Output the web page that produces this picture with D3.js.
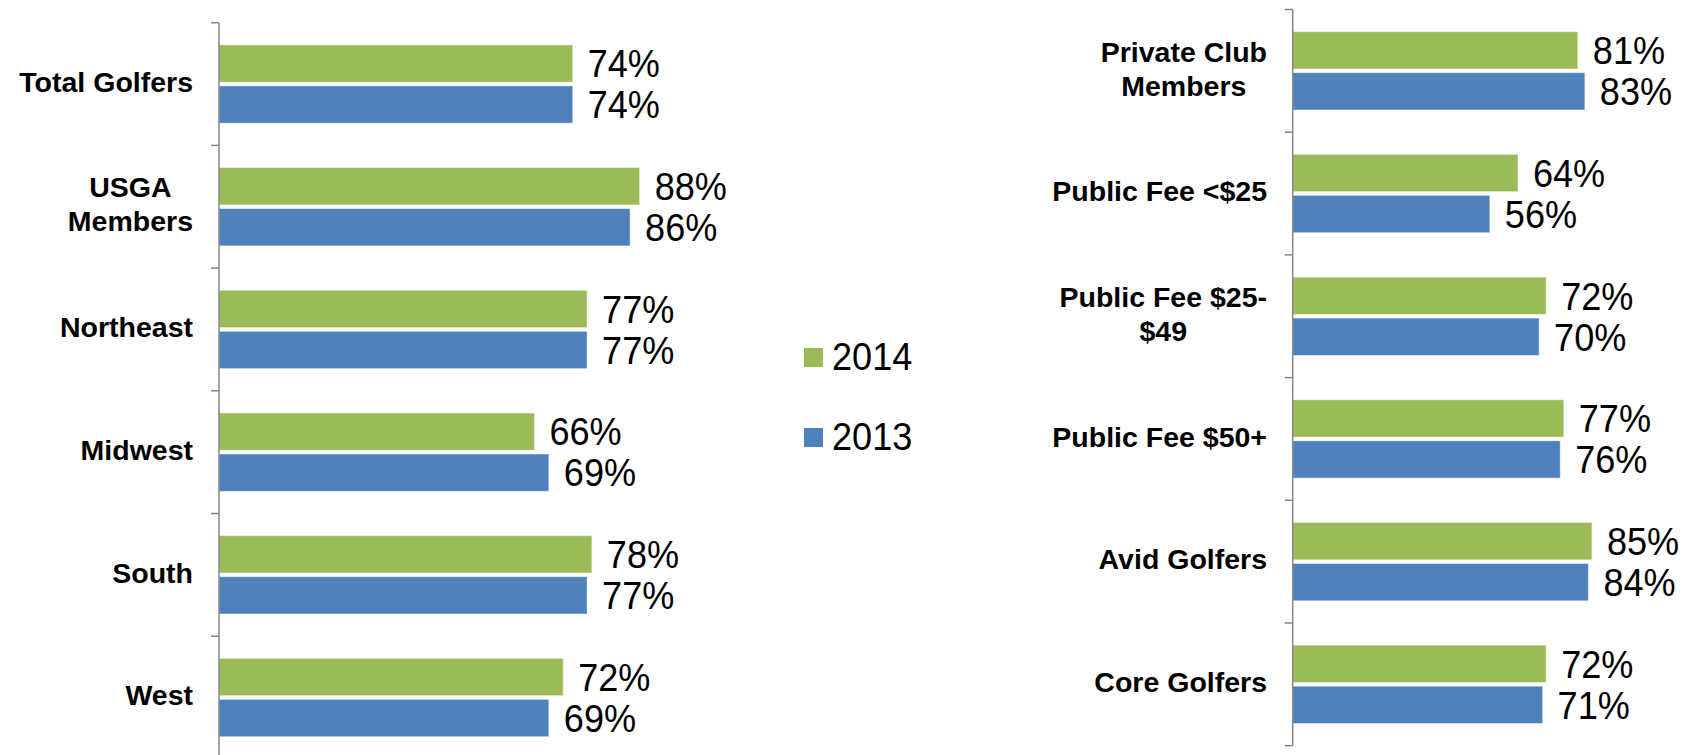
<!DOCTYPE html>
<html>
<head>
<meta charset="utf-8">
<script src="https://cdn.jsdelivr.net/npm/d3@7"></script>
<style>
  html, body { margin: 0; padding: 0; background: #fff; }
  svg { display: block; }
</style>
</head>
<body>
<svg id="chart" width="1690" height="755"></svg>
<script>
// ---- data ----
const seriesNames = ["2014", "2013"];
const leftCategories = ["Total Golfers", "USGA\nMembers", "Northeast", "Midwest", "South", "West"];
const left2014 = [74, 88, 77, 66, 78, 72];
const left2013 = [74, 86, 77, 69, 77, 69];
const rightCategories = ["Private Club\nMembers", "Public Fee <$25", "Public Fee $25-\n$49", "Public Fee $50+", "Avid Golfers", "Core Golfers"];
const right2014 = [81, 64, 72, 77, 85, 72];
const right2013 = [83, 56, 70, 76, 84, 71];
const colors = ["#9BBB59", "#4F81BD"];

const svg = d3.select("#chart");
const FONT = "'Liberation Sans', Arial, Helvetica, sans-serif";
const VAL_FS = 38, VAL_SX = 0.95;

function drawPanel(cfg) {
  const { categories, s2014, s2013, axisX, xWidth, yTop, step, labelRight } = cfg;
  const n = categories.length;
  const x = d3.scaleLinear().domain([0, 100]).range([axisX, axisX + xWidth]);
  const pin = 1 - 78.3 / step;
  const y = d3.scaleBand().domain(categories).range([yTop, yTop + n * step])
    .paddingInner(pin).paddingOuter(pin / 2);
  const sub = d3.scaleBand().domain(seriesNames).range([0, y.bandwidth()]).paddingInner(0.09);

  const rows = categories.map((c, i) => ({ cat: c, vals: [s2014[i], s2013[i]] }));
  const g = svg.append("g");

  const grp = g.selectAll("g.row").data(rows).join("g").attr("class", "row")
    .attr("transform", d => `translate(0,${y(d.cat)})`);

  grp.selectAll("rect").data(d => d.vals.map((v, k) => ({ v, k }))).join("rect")
    .attr("x", x(0))
    .attr("y", d => sub(seriesNames[d.k]))
    .attr("width", d => x(d.v) - x(0))
    .attr("height", sub.bandwidth())
    .attr("fill", d => colors[d.k])
    .attr("stroke", "rgba(255,255,255,0.45)")
    .attr("stroke-width", 1);

  grp.selectAll("text.val").data(d => d.vals.map((v, k) => ({ v, k }))).join("text")
    .attr("class", "val")
    .attr("transform", d => `translate(${x(d.v) + 15},${sub(seriesNames[d.k]) + sub.bandwidth() / 2 + 13.8}) scale(${VAL_SX},1)`)
    .attr("font-family", FONT)
    .attr("font-size", VAL_FS)
    .attr("fill", "#000")
    .text(d => d.v + "%");

  // axis line and boundary ticks
  const r = y.range();
  g.append("line").attr("x1", axisX).attr("x2", axisX).attr("y1", r[0]).attr("y2", r[1])
    .attr("stroke", "#868686").attr("stroke-width", 1.5);
  d3.range(n + 1).forEach(i => {
    const ty = r[0] + i * y.step();
    g.append("line").attr("x1", axisX - 8).attr("x2", axisX).attr("y1", ty).attr("y2", ty)
      .attr("stroke", "#868686").attr("stroke-width", 1.5);
  });

  // category labels
  const fs = 28.5, lh = 34;
  categories.forEach(c => {
    const lines = c.split("\n");
    const cy = y(c) + y.bandwidth() / 2;
    const t = g.append("text")
      .attr("font-family", FONT).attr("font-weight", "bold").attr("font-size", fs)
      .attr("fill", "#000").attr("text-anchor", "middle");
    lines.forEach((ln, j) => {
      t.append("tspan").attr("x", 0)
        .attr("y", cy + 0.358 * fs - 2.5 + (j - (lines.length - 1) / 2) * lh)
        .text(ln);
    });
    let maxW = 0;
    t.selectAll("tspan").each(function () { maxW = Math.max(maxW, this.getComputedTextLength()); });
    t.selectAll("tspan").attr("x", labelRight - maxW / 2);
  });
}

drawPanel({ categories: leftCategories, s2014: left2014, s2013: left2013,
  axisX: 219, xWidth: 478, yTop: 22.7, step: 122.7, labelRight: 193 });
drawPanel({ categories: rightCategories, s2014: right2014, s2013: right2013,
  axisX: 1292.7, xWidth: 352, yTop: 9.5, step: 122.7, labelRight: 1267 });

// legend
const leg = svg.append("g").selectAll("g").data(seriesNames).join("g")
  .attr("transform", (d, i) => `translate(804,${357.5 + i * 80})`);
leg.append("rect").attr("x", 0).attr("y", -9.5).attr("width", 19).attr("height", 19)
  .attr("fill", (d, i) => colors[i]);
leg.append("text").attr("transform", `translate(28,12.5) scale(${VAL_SX},1)`)
  .attr("font-family", FONT).attr("font-size", VAL_FS).attr("fill", "#000")
  .text(d => d);
</script>
</body>
</html>
